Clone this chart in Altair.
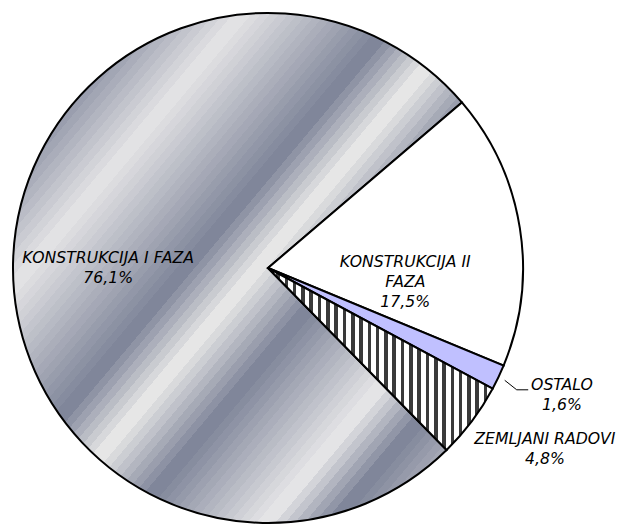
import math
import numpy as np
import pandas as pd
import altair as alt

# ---- data ----
categories = ["KONSTRUKCIJA II FAZA", "OSTALO", "ZEMLJANI RADOVI", "KONSTRUKCIJA I FAZA"]
shares = [17.5, 1.6, 4.8, 76.1]

# ---- layout / style ----
START_DEG = 49.5
R = 255
W = H = 520
CX, CY = W / 2, H / 2
theta0 = math.radians(START_DEG)
theta_scale = alt.Scale(domain=[0, 100], range=[theta0, theta0 + 2 * math.pi])

cum = np.cumsum(shares)
starts = cum - np.array(shares)


def ang(p):
    return theta0 + 2 * math.pi * p / 100.0


def slice_bbox(i):
    t = np.linspace(ang(starts[i]), ang(cum[i]), 4000)
    xs = np.concatenate([CX + R * np.sin(t), [CX]])
    ys = np.concatenate([CY - R * np.cos(t), [CY]])
    return xs.min(), ys.min(), xs.max() - xs.min(), ys.max() - ys.min()


def hex2rgb(h):
    return [int(h[i:i + 2], 16) for i in (1, 3, 5)]


def rgb2hex(c):
    return "#" + "".join(f"{int(round(v)):02x}" for v in c)


# silver stripes gradient for the big slice (profile along the normal of the bands)
nx, ny = math.cos(math.radians(40)), math.sin(math.radians(40))
profile = [(-255, "#9a9eae"), (-183, "#e2e2e4"), (-63, "#80869a"), (-8, "#e6e6e6"),
           (57, "#80869a"), (162, "#e4e4e6"), (214, "#80869a"), (255, "#a4a7b4")]
# stepped bands like the original
gstops = []
for (s0, c0), (s1, c1) in zip(profile[:-1], profile[1:]):
    n = max(2, int(round((s1 - s0) / 7)))
    r0, r1 = np.array(hex2rgb(c0)), np.array(hex2rgb(c1))
    for j in range(n):
        col = rgb2hex(r0 + (r1 - r0) * (j / (n - 1)))
        a = (s0 + (s1 - s0) * j / n + R) / (2 * R)
        b = (s0 + (s1 - s0) * (j + 1) / n + R) / (2 * R)
        gstops += [{"offset": a, "color": col}, {"offset": b, "color": col}]

bx, by, bw, bh = slice_bbox(3)
A = nx * bw / (2 * R)
B = ny * bh / (2 * R)
C = (nx * (bx - CX) + ny * (by - CY) + R) / (2 * R)
den = A * A + B * B
gx1, gy1 = -C * A / den, -C * B / den
grad_gray = {
    "gradient": "linear",
    "x1": gx1, "y1": gy1, "x2": gx1 + A / den, "y2": gy1 + B / den,
    "stops": gstops,
}

# vertical hatch for ZEMLJANI RADOVI
hx, hy, hw, hh = slice_bbox(2)
P, DARK = 8.3, 3.6
stops = []
k = 0
while k * P < hw:
    a0 = k * P / hw
    a1 = min((k * P + DARK) / hw, 1)
    a2 = min((k + 1) * P / hw, 1)
    stops += [{"offset": a0, "color": "#3a3a3a"}, {"offset": a1, "color": "#3a3a3a"},
              {"offset": a1, "color": "#ffffff"}, {"offset": a2, "color": "#ffffff"}]
    k += 1
grad_hatch = {"gradient": "linear", "x1": 0, "y1": 0, "x2": 1, "y2": 0, "stops": stops}

df = pd.DataFrame({"cat": categories, "value": shares, "order": list(range(len(categories)))})

base = alt.Chart(df).transform_window(
    end="sum(value)", sort=[alt.SortField("order")], frame=[None, 0]
).transform_calculate(
    start="datum.end - datum.value"
).transform_calculate(
    mid="datum.end - datum.value / 2"
)


def slice_layer(cat, fill):
    return base.transform_filter(alt.datum.cat == cat).mark_arc(
        fill=fill, stroke="black", strokeWidth=2, radius=R
    ).encode(
        theta=alt.Theta("start:Q", scale=theta_scale),
        theta2="end:Q",
    )


pct = "replace(format(datum.value, '.1f'), '.', ',') + '%'"


def label_layer(cat, name_expr, radius, dx, dy):
    return base.transform_filter(alt.datum.cat == cat).transform_calculate(
        label=name_expr + " + '\\n' + " + pct
    ).mark_text(
        radius=radius, dx=dx, dy=dy, font="DejaVu Sans", fontSize=15.7, fontStyle="italic",
        lineBreak="\n", lineHeight=20, align="center", baseline="middle", color="black"
    ).encode(
        theta=alt.Theta("mid:Q", scale=theta_scale),
        text="label:N",
    )


leader = base.transform_filter(alt.datum.cat == "OSTALO").transform_calculate(
    ang=f"{theta0} + 2 * PI * datum.mid / 100"
).transform_calculate(
    x0=f"{CX} + 262 * sin(datum.ang)", y0=f"{CY} - 262 * cos(datum.ang)"
).transform_calculate(
    x1="datum.x0 + 12", y1="datum.y0 + 9.5"
).transform_calculate(
    x2="datum.x1 + 11.5"
)
rule1 = leader.mark_rule(color="black", strokeWidth=1).encode(
    x=alt.X("x0:Q", scale=None, axis=None), y=alt.Y("y0:Q", scale=None, axis=None),
    x2="x1:Q", y2="y1:Q")
rule2 = leader.mark_rule(color="black", strokeWidth=1).encode(
    x=alt.X("x1:Q", scale=None, axis=None), y=alt.Y("y1:Q", scale=None, axis=None),
    x2="x2:Q", y2="y1:Q")

chart = alt.layer(
    slice_layer(categories[3], grad_gray),
    slice_layer(categories[0], "#ffffff"),
    slice_layer(categories[1], "#c0c0ff"),
    slice_layer(categories[2], grad_hatch),
    rule1, rule2,
    label_layer(categories[3], "datum.cat", 160, 0, -3),
    label_layer(categories[0], "replace(datum.cat, 'II ', 'II\\n')", 139, 0, 15.7),
    label_layer(categories[1], "datum.cat", 322, 3, -20.9),
    label_layer(categories[2], "datum.cat", 330, 13, -27.1),
).properties(
    width=W, height=H, autosize="none",
    padding={"left": 0, "top": 0, "right": 88, "bottom": 0},
    background="white",
).configure_view(strokeWidth=0)

chart.save("out.html", embed_options={"renderer": "svg", "actions": False})
